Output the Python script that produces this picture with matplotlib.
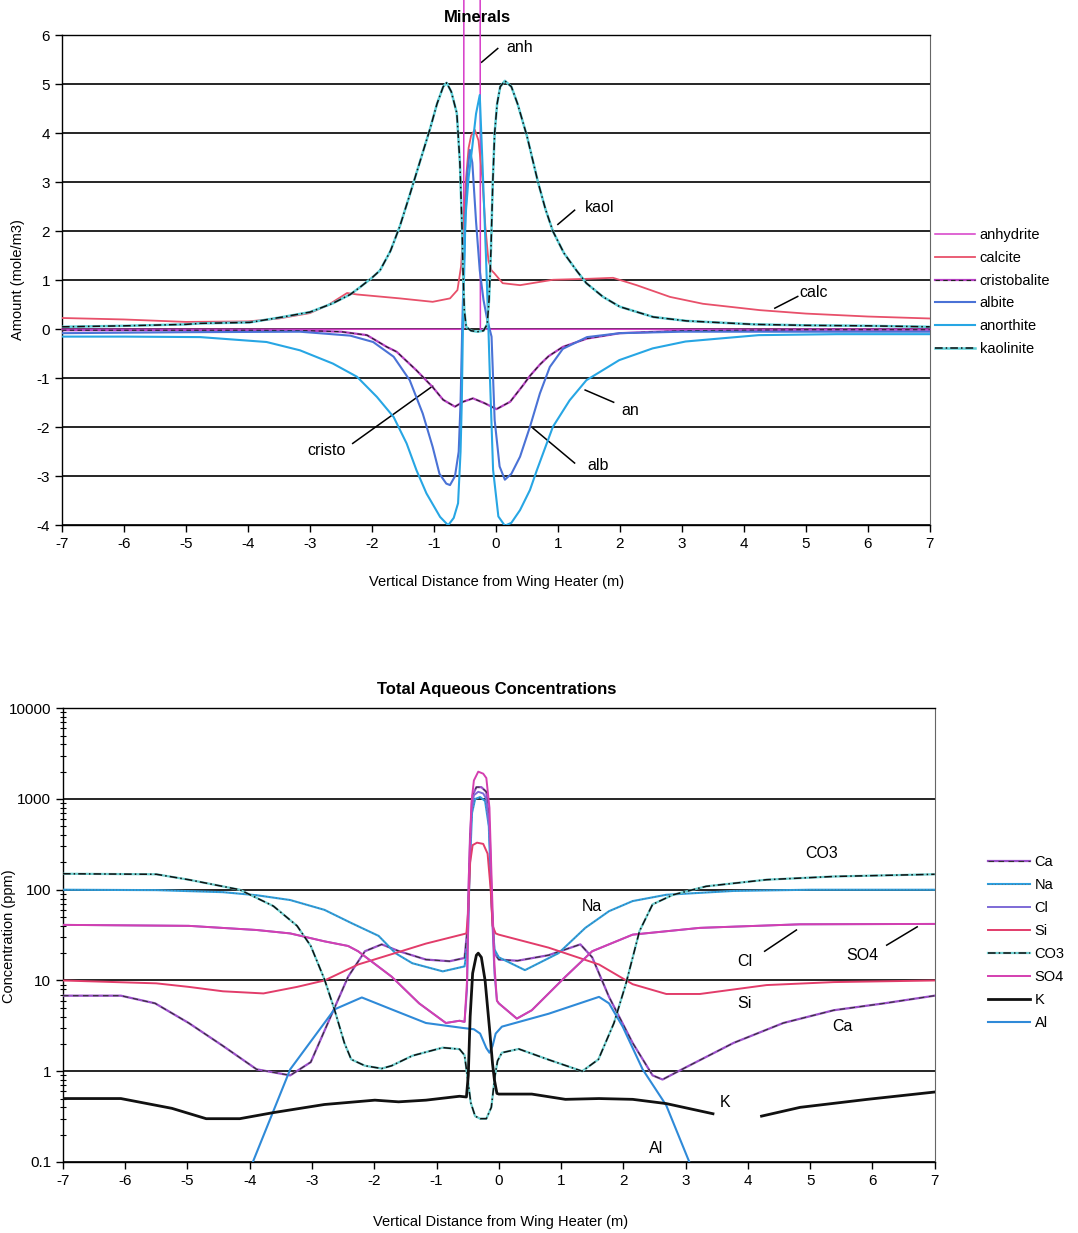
import numpy as np
import matplotlib
matplotlib.use("Agg")
import matplotlib.pyplot as plt
from matplotlib.ticker import LogLocator, NullFormatter, FixedLocator, FixedFormatter

plt.rcParams['font.family'] = ['Liberation Sans', 'DejaVu Sans']
plt.rcParams['axes.unicode_minus'] = False

# ---------------- Minerals (top) ----------------
anh_x = [-7, -0.52, -0.5, -0.27, -0.25, 7]
anh_y = [0, 0, 40, 40, 0, 0]

calc_x = [-7, -6, -5, -4, -3.5, -3, -2.7, -2.4, -2.24, -1.55, -1.02, -0.74, -0.62, -0.56, -0.52,
          -0.48, -0.44, -0.4, -0.34, -0.28, -0.22, -0.17, -0.12, -0.07, -0.03, 0.11, 0.39, 0.92,
          1.5, 1.89, 2.27, 2.81, 3.34, 4.26, 5, 6, 7]
calc_y = [0.23, 0.2, 0.15, 0.16, 0.22, 0.33, 0.5, 0.74, 0.71, 0.63, 0.56, 0.63, 0.8, 1.3, 2.2,
          3.1, 3.7, 3.95, 4.07, 3.85, 3.1, 2.1, 1.4, 1.2, 1.15, 0.94, 0.9, 1.01,
          1.03, 1.05, 0.9, 0.66, 0.52, 0.39, 0.32, 0.26, 0.22]

cristo_x = [-7, -5, -4, -3, -2.5, -2.08, -1.76, -1.6, -1.28, -1.02, -0.85, -0.66, -0.53, -0.37,
            -0.18, 0.01, 0.23, 0.44, 0.55, 0.71, 0.85, 1.08, 1.47, 2.0, 3.0, 5, 7]
cristo_y = [-0.02, -0.02, -0.02, -0.03, -0.05, -0.12, -0.36, -0.46, -0.84, -1.18, -1.44, -1.58,
            -1.48, -1.41, -1.51, -1.63, -1.48, -1.14, -0.95, -0.72, -0.55, -0.36, -0.19, -0.08,
            -0.03, -0.01, -0.01]

alb_x = [-7, -5, -3.16, -2.35, -1.98, -1.65, -1.39, -1.18, -1.02, -0.91, -0.8, -0.74, -0.66, -0.6,
         -0.57, -0.54, -0.5, -0.46, -0.42, -0.38, -0.32, -0.26, -0.2, -0.14, -0.07, -0.02, 0.06,
         0.145, 0.25, 0.39, 0.55, 0.71, 0.87, 1.08, 1.47, 2.0, 3.0, 7]
alb_y = [-0.08, -0.06, -0.05, -0.13, -0.26, -0.56, -1.04, -1.72, -2.4, -2.95, -3.15, -3.18, -3.0,
         -2.5, -1.5, 0.2, 2.0, 3.2, 3.66, 3.4, 2.2, 1.2, 0.6, 0.2, -0.15, -1.85, -2.8,
         -3.07, -2.95, -2.6, -1.99, -1.31, -0.77, -0.4, -0.16, -0.08, -0.05, -0.05]

an_x = [-7, -6, -4.77, -3.7, -3.16, -2.63, -2.24, -1.92, -1.65, -1.44, -1.28, -1.12, -0.9, -0.77,
        -0.68, -0.61, -0.57, -0.55, -0.53, -0.49, -0.44, -0.38, -0.32, -0.26, -0.22, -0.16, -0.12,
        -0.1, -0.045, 0.04, 0.145, 0.25, 0.39, 0.55, 0.66, 0.92, 1.19, 1.46, 1.99, 2.53, 3.06,
        3.6, 4.24, 5.5, 7]
an_y = [-0.15, -0.15, -0.16, -0.26, -0.43, -0.7, -0.97, -1.38, -1.79, -2.33, -2.88, -3.35, -3.83,
        -4.0, -3.85, -3.55, -2.5, -1.5, 0.19, 2.3, 3.1, 3.73, 4.4, 4.78, 3.5, 1.5, 0.0,
        -0.83, -2.87, -3.82, -4.01, -3.95, -3.69, -3.28, -2.88, -1.99, -1.45, -1.04, -0.63, -0.39,
        -0.25, -0.19, -0.12, -0.1, -0.1]

kaol_x = [-7, -6, -5, -4.77, -3.97, -3.44, -3.0, -2.63, -2.35, -2.2, -2.0, -1.87, -1.7, -1.55,
          -1.4, -1.23, -1.06, -0.95, -0.85, -0.795, -0.72, -0.63, -0.58, -0.545, -0.53, -0.51,
          -0.48, -0.4, -0.3, -0.2, -0.14, -0.11, -0.08, -0.05, -0.02, 0.02, 0.07, 0.145, 0.25,
          0.35, 0.5, 0.68, 0.8, 0.92, 1.1, 1.3, 1.46, 1.73, 2.0, 2.54, 3.08, 4.16, 5, 6, 7]
kaol_y = [0.05, 0.07, 0.1, 0.12, 0.14, 0.25, 0.35, 0.53, 0.71, 0.85, 1.05, 1.2, 1.6, 2.1,
          2.7, 3.4, 4.1, 4.6, 4.95, 5.03, 4.85, 4.41, 3.39, 2.03, 1.2, 0.4,
          0.05, -0.03, -0.05, -0.03, 0.1, 0.6, 1.6, 3.0, 4.0, 4.6, 4.95, 5.07, 4.95,
          4.6, 3.95, 3.0, 2.45, 2.0, 1.55, 1.2, 0.94, 0.66, 0.46, 0.25, 0.17, 0.1, 0.08, 0.07, 0.05]

# ---------------- Total aqueous concentrations (bottom) ----------------
ca_x = [-7, -6.07, -5.52, -4.98, -4.43, -3.89, -3.35, -3.02, -2.7, -2.42, -2.15, -1.88, -1.6,
        -1.17, -0.79, -0.55, -0.5, -0.46, -0.42, -0.36, -0.28, -0.2, -0.15, -0.11, -0.07, 0.0,
        0.3, 0.8, 1.31, 1.5, 1.77, 2.15, 2.47, 2.63, 3.0, 3.77, 4.57, 5.38, 6.19, 7]
ca_y = [6.8, 6.8, 5.6, 3.4, 1.9, 1.05, 0.9, 1.26, 4.0, 11, 21, 25, 21,
        17, 16.3, 17.7, 40, 400, 1100, 1350, 1350, 1200, 500, 60, 20, 17,
        16.5, 19, 25, 18, 6.6, 2.05, 0.9, 0.81, 1.1, 2.05, 3.4, 4.7, 5.6, 6.8]

na_x = [-7, -5.5, -4.43, -3.89, -3.35, -2.8, -2.37, -1.93, -1.66, -1.39, -0.9, -0.55, -0.5, -0.47,
        -0.43, -0.38, -0.3, -0.22, -0.16, -0.12, -0.07, 0.0, 0.42, 0.96, 1.39, 1.77, 2.15, 2.69,
        3.77, 5, 7]
na_y = [100, 99, 94, 87, 77, 60, 43, 31, 20, 15.5, 12.6, 14.3, 25, 150,
        700, 1000, 1050, 950, 500, 80, 22, 18, 13, 20, 38, 58, 75, 88,
        97, 100, 100]

so4_x = [-7, -4.98, -3.89, -3.35, -2.8, -2.42, -2.26, -1.72, -1.28, -0.85, -0.63, -0.55, -0.51,
         -0.48, -0.44, -0.4, -0.33, -0.25, -0.2, -0.15, -0.11, -0.07, -0.03, 0.0, 0.29, 0.53,
         1.07, 1.5, 2.15, 3.23, 4.84, 7]
so4_y = [41, 40, 36, 33, 27, 24, 21, 11, 5.6, 3.4, 3.6, 3.5, 10,
         150, 900, 1600, 2000, 1900, 1700, 800, 100, 15, 6, 5.6, 3.8, 4.7,
         11, 21, 32, 38, 41.6, 42]
cl_x = so4_x
cl_y = [41, 40, 36, 33, 27, 24, 21, 11, 5.6, 3.4, 3.6, 3.5, 8,
        100, 700, 1100, 1200, 1150, 1000, 450, 60, 12, 6, 5.6, 3.8, 4.7,
        11, 21, 32, 38, 41.6, 42]

si_x = [-7, -5.5, -4.98, -4.43, -3.78, -3.24, -2.8, -2.26, -1.72, -1.17, -0.52, -0.49, -0.46,
        -0.42, -0.35, -0.25, -0.18, -0.13, -0.1, -0.05, 0.0, 0.8, 1.61, 2.15, 2.69, 3.23, 4.3,
        5.38, 7]
si_y = [10, 9.3, 8.5, 7.6, 7.2, 8.5, 10, 15, 19.5, 25.5, 33, 60, 200,
        310, 330, 320, 250, 100, 40, 33, 32, 23, 15, 9.1, 7.1, 7.1, 8.9,
        9.6, 10]

co3_x = [-7, -5.5, -4.98, -4.16, -3.62, -3.24, -3.02, -2.8, -2.64, -2.48, -2.37, -2.15, -1.88,
         -1.72, -1.39, -0.9, -0.63, -0.55, -0.5, -0.45, -0.38, -0.3, -0.2, -0.12, -0.06, -0.02,
         0.05, 0.32, 0.8, 1.34, 1.6, 1.85, 2.04, 2.26, 2.47, 2.8, 3.33, 4.3, 5.38, 7]
co3_y = [150, 148, 129, 100, 66, 40, 24, 10.3, 4.8, 2.05, 1.35, 1.15, 1.07,
         1.15, 1.48, 1.82, 1.75, 1.5, 0.83, 0.45, 0.32, 0.3, 0.3, 0.4, 0.9, 1.3,
         1.6, 1.76, 1.34, 1.0, 1.35, 3.4, 9.1, 35, 69, 88, 109, 129, 140, 148]

k_x = [-7, -6.07, -5.25, -4.7, -4.16, -3.62, -2.8, -1.99, -1.61, -1.17, -0.63, -0.52, -0.49,
       -0.46, -0.42, -0.36, -0.33, -0.28, -0.22, -0.15, -0.1, -0.07, -0.03, 0.0, 0.53, 1.07,
       1.61, 2.15, 2.69, 3.44, 3.45, 4.22, 4.84, 5.92, 7]
k_y = [0.5, 0.5, 0.39, 0.3, 0.3, 0.35, 0.43, 0.48, 0.46, 0.48, 0.53, 0.52, 0.9,
       4, 12, 19, 20, 18, 10, 3, 1.2, 0.8, 0.57, 0.56, 0.56, 0.49,
       0.5, 0.49, 0.44, 0.34, np.nan, 0.32, 0.4, 0.49, 0.59]

al_x = [-3.95, -3.35, -2.64, -2.2, -1.72, -1.17, -0.58, -0.4, -0.3, -0.2, -0.15, -0.1, -0.05,
        0.05, 0.8, 1.61, 1.77, 1.99, 2.31, 2.69, 3.06]
al_y = [0.1, 1.05, 4.8, 6.5, 4.8, 3.4, 3.0, 2.9, 2.6, 1.8, 1.6, 1.9, 2.6,
        3.1, 4.3, 6.6, 5.6, 3.1, 1.05, 0.42, 0.1]

xticks = list(range(-7, 8))

fig = plt.figure(figsize=(10.78, 12.33), dpi=100)
ax1 = fig.add_axes([0.0575, 0.574, 0.805, 0.3974])
ax2 = fig.add_axes([0.0584, 0.0576, 0.8086, 0.368])


def style(ax):
    for s in ax.spines.values():
        s.set_color('black')
        s.set_linewidth(1.0)
    ax.spines['right'].set_color('#666666')
    ax.spines['right'].set_linewidth(0.8)
    ax.set_xlim(-7, 7)
    ax.set_xticks(xticks)
    ax.tick_params(axis='both', which='major', direction='out', length=5, width=1,
                   labelsize=11, colors='black')
    ax.yaxis.grid(True, which='major', color='black', lw=1.2)
    ax.set_axisbelow(True)


# ---- top chart ----
style(ax1)
ax1.set_ylim(-4, 6)
ax1.set_yticks(range(-4, 7))

l_anh, = ax1.plot(anh_x, anh_y, color='#d63cc8', lw=1.1, clip_on=False, zorder=3)
l_calc, = ax1.plot(calc_x, calc_y, color='#e8506a', lw=1.3, zorder=3)
l_cr1, = ax1.plot(cristo_x, cristo_y, color='#b840c4', lw=1.6, zorder=3)
l_cr2, = ax1.plot(cristo_x, cristo_y, color='#222222', lw=0.8, ls=(0, (4, 3)), zorder=3)
l_alb, = ax1.plot(alb_x, alb_y, color='#4a72d6', lw=1.5, zorder=3)
l_an, = ax1.plot(an_x, an_y, color='#27a6e4', lw=1.5, zorder=3)
l_ka1, = ax1.plot(kaol_x, kaol_y, color='#5fd0d8', lw=1.8, zorder=3)
l_ka2, = ax1.plot(kaol_x, kaol_y, color='#111111', lw=1.1, ls=(0, (5, 2, 1, 2)), zorder=4)

# labels with leader lines
ax1.text(0.39, 5.76, 'anh', fontsize=11.5, ha='center', va='center')
ax1.plot([0.03, -0.23], [5.73, 5.45], color='black', lw=1.1)
ax1.text(1.68, 2.49, 'kaol', fontsize=11.5, ha='center', va='center')
ax1.plot([1.27, 1.0], [2.43, 2.14], color='black', lw=1.1)
ax1.text(5.13, 0.76, 'calc', fontsize=11.5, ha='center', va='center')
ax1.plot([4.5, 4.87], [0.43, 0.67], color='black', lw=1.1)
ax1.text(-2.73, -2.47, 'cristo', fontsize=11.5, ha='center', va='center')
ax1.plot([-2.31, -1.02], [-2.33, -1.16], color='black', lw=1.1)
ax1.text(2.16, -1.65, 'an', fontsize=11.5, ha='center', va='center')
ax1.plot([1.44, 1.9], [-1.24, -1.49], color='black', lw=1.1)
ax1.text(1.65, -2.78, 'alb', fontsize=11.5, ha='center', va='center')
ax1.plot([0.6, 1.27], [-2.02, -2.73], color='black', lw=1.1)

fig.text(0.4425, 0.986, 'Minerals', fontsize=12, fontweight='bold', ha='center', va='center')
fig.text(0.461, 0.528, 'Vertical Distance from Wing Heater (m)', fontsize=10.5,
         ha='center', va='center')
fig.text(0.0167, 0.773, 'Amount (mole/m3)', fontsize=10.5, rotation=90,
         ha='center', va='center')

fig.legend(handles=[l_anh, l_calc, (l_cr1, l_cr2), l_alb, l_an, (l_ka1, l_ka2)],
           labels=['anhydrite', 'calcite', 'cristobalite', 'albite', 'anorthite', 'kaolinite'],
           loc='upper left', bbox_to_anchor=(0.867, 0.815), frameon=False, fontsize=10.5,
           handlelength=2.75, labelspacing=0.6, handletextpad=0.35, borderpad=0,
           borderaxespad=0)

# ---- bottom chart ----
style(ax2)
ax2.set_yscale('log')
ax2.set_ylim(0.1, 10000)
ax2.yaxis.set_major_locator(FixedLocator([0.1, 1, 10, 100, 1000, 10000]))
ax2.yaxis.set_major_formatter(FixedFormatter(['0.1', '1', '10', '100', '1000', '10000']))
ax2.yaxis.set_minor_locator(LogLocator(base=10, subs=np.arange(2, 10)))
ax2.yaxis.set_minor_formatter(NullFormatter())
ax2.tick_params(axis='y', which='minor', direction='inout', length=5, width=0.8)

l_ca1, = ax2.plot(ca_x, ca_y, color='#9a4fc8', lw=1.6, zorder=3)
l_ca2, = ax2.plot(ca_x, ca_y, color='#333333', lw=0.8, ls=(0, (5, 4)), zorder=3)
l_na1, = ax2.plot(na_x, na_y, color='#2b9fe0', lw=1.5, zorder=3)
l_na2, = ax2.plot(na_x, na_y, color='#666666', lw=0.6, ls=(0, (1, 3)), zorder=3)
l_cl, = ax2.plot(cl_x, cl_y, color='#7d6ad6', lw=1.4, zorder=3)
l_si, = ax2.plot(si_x, si_y, color='#e23c6a', lw=1.4, zorder=3)
l_co1, = ax2.plot(co3_x, co3_y, color='#6fd0d0', lw=1.6, zorder=3)
l_co2, = ax2.plot(co3_x, co3_y, color='#111111', lw=1.1, ls=(0, (5, 2, 1, 2)), zorder=4)
l_so4, = ax2.plot(so4_x, so4_y, color='#d43fb0', lw=1.4, zorder=3)
l_k, = ax2.plot(k_x, k_y, color='#111111', lw=2.0, zorder=4)
l_al, = ax2.plot(al_x, al_y, color='#2f8ad8', lw=1.5, zorder=3)

ax2.text(5.18, 250, 'CO3', fontsize=11.5, ha='center', va='center')
ax2.text(1.49, 66, 'Na', fontsize=11.5, ha='center', va='center')
ax2.text(3.95, 16.2, 'Cl', fontsize=11.5, ha='center', va='center')
ax2.plot([4.27, 4.78], [21, 36], color='black', lw=1.1)
ax2.text(5.84, 19, 'SO4', fontsize=11.5, ha='center', va='center')
ax2.plot([6.23, 6.72], [24.5, 39], color='black', lw=1.1)
ax2.text(3.95, 5.6, 'Si', fontsize=11.5, ha='center', va='center')
ax2.text(5.52, 3.1, 'Ca', fontsize=11.5, ha='center', va='center')
ax2.text(3.63, 0.45, 'K', fontsize=11.5, ha='center', va='center')
ax2.text(2.53, 0.14, 'Al', fontsize=11.5, ha='center', va='center')

fig.text(0.461, 0.4404, 'Total Aqueous Concentrations', fontsize=12, fontweight='bold',
         ha='center', va='center')
fig.text(0.464, 0.009, 'Vertical Distance from Wing Heater (m)', fontsize=10.5,
         ha='center', va='center')
fig.text(0.0085, 0.241, 'Concentration (ppm)', fontsize=10.5, rotation=90,
         ha='center', va='center')

fig.legend(handles=[(l_ca1, l_ca2), (l_na1, l_na2), l_cl, l_si, (l_co1, l_co2), l_so4, l_k, l_al],
           labels=['Ca', 'Na', 'Cl', 'Si', 'CO3', 'SO4', 'K', 'Al'],
           loc='upper left', bbox_to_anchor=(0.9165, 0.3066), frameon=False, fontsize=10.5,
           handlelength=2.9, labelspacing=0.62, handletextpad=0.3, borderpad=0,
           borderaxespad=0)

fig.savefig('out.png', dpi=100)
